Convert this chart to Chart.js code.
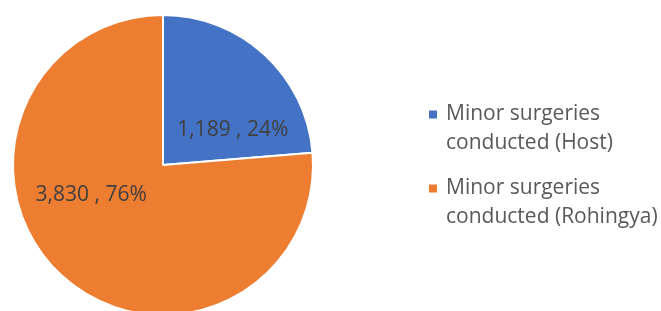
<!DOCTYPE html>
<html><head><meta charset="utf-8">
<script src="https://cdn.jsdelivr.net/npm/chart.js@4"></script>
<style>html,body{margin:0;padding:0;background:#fff;overflow:hidden}#wrap{width:661px;height:320px;position:relative}</style>
</head><body><div id="wrap"><canvas id="c" width="661" height="320"></canvas></div>
<script>
const categories = ["Minor surgeries conducted (Host)", "Minor surgeries conducted (Rohingya)"];
const legendLines = [["Minor surgeries", "conducted (Host)"], ["Minor surgeries", "conducted (Rohingya)"]];
const values = [1189, 3830];
const colors = ["#4472C4", "#ED7D31"];

const FONT = "'Open Sans', sans-serif";

const labelPlugin = {
  id: 'labels',
  afterDatasetsDraw(chart) {
    const ctx = chart.ctx;
    const meta = chart.getDatasetMeta(0);
    const total = values.reduce((a, b) => a + b, 0);
    ctx.save();
    ctx.font = "21px " + FONT;
    ctx.fillStyle = "#404040";
    ctx.textAlign = "center";
    ctx.textBaseline = "middle";
    meta.data.forEach((arc, i) => {
      const mid = (arc.startAngle + arc.endAngle) / 2 + (i === 0 ? 0.363 : 0.426);
      const r = arc.outerRadius * 0.52;
      const x = arc.x + Math.cos(mid) * r;
      const y = arc.y + Math.sin(mid) * r;
      const pct = Math.round(values[i] / total * 100);
      ctx.fillText(values[i].toLocaleString('en-US') + " , " + pct + "%", x, y);
    });
    ctx.restore();
  }
};

const legendPlugin = {
  id: 'customLegend',
  afterDraw(chart) {
    const ctx = chart.ctx;
    const ds = chart.data.datasets[0];
    ctx.save();
    ctx.font = "21px " + FONT;
    ctx.textAlign = "left";
    ctx.textBaseline = "middle";
    const startY = 114, entryGap = 74, lineGap = 29;
    legendLines.forEach((lines, i) => {
      const y = startY + i * entryGap;
      ctx.fillStyle = ds.backgroundColor[i];
      ctx.fillRect(429, y - 3.5, 8, 8);
      ctx.fillStyle = "#595959";
      lines.forEach((t, j) => ctx.fillText(t, 446, y + j * lineGap));
    });
    ctx.restore();
  }
};

new Chart(document.getElementById('c'), {
  type: 'pie',
  data: {
    labels: categories,
    datasets: [{
      data: values,
      backgroundColor: colors,
      borderColor: "#ffffff",
      borderWidth: 2
    }]
  },
  options: {
    responsive: false,
    animation: false,
    radius: 150,
    layout: { padding: { left: 13, right: 348, top: 15, bottom: 5 } },
    plugins: { legend: { display: false }, tooltip: { enabled: false } }
  },
  plugins: [labelPlugin, legendPlugin]
});
</script></body></html>
